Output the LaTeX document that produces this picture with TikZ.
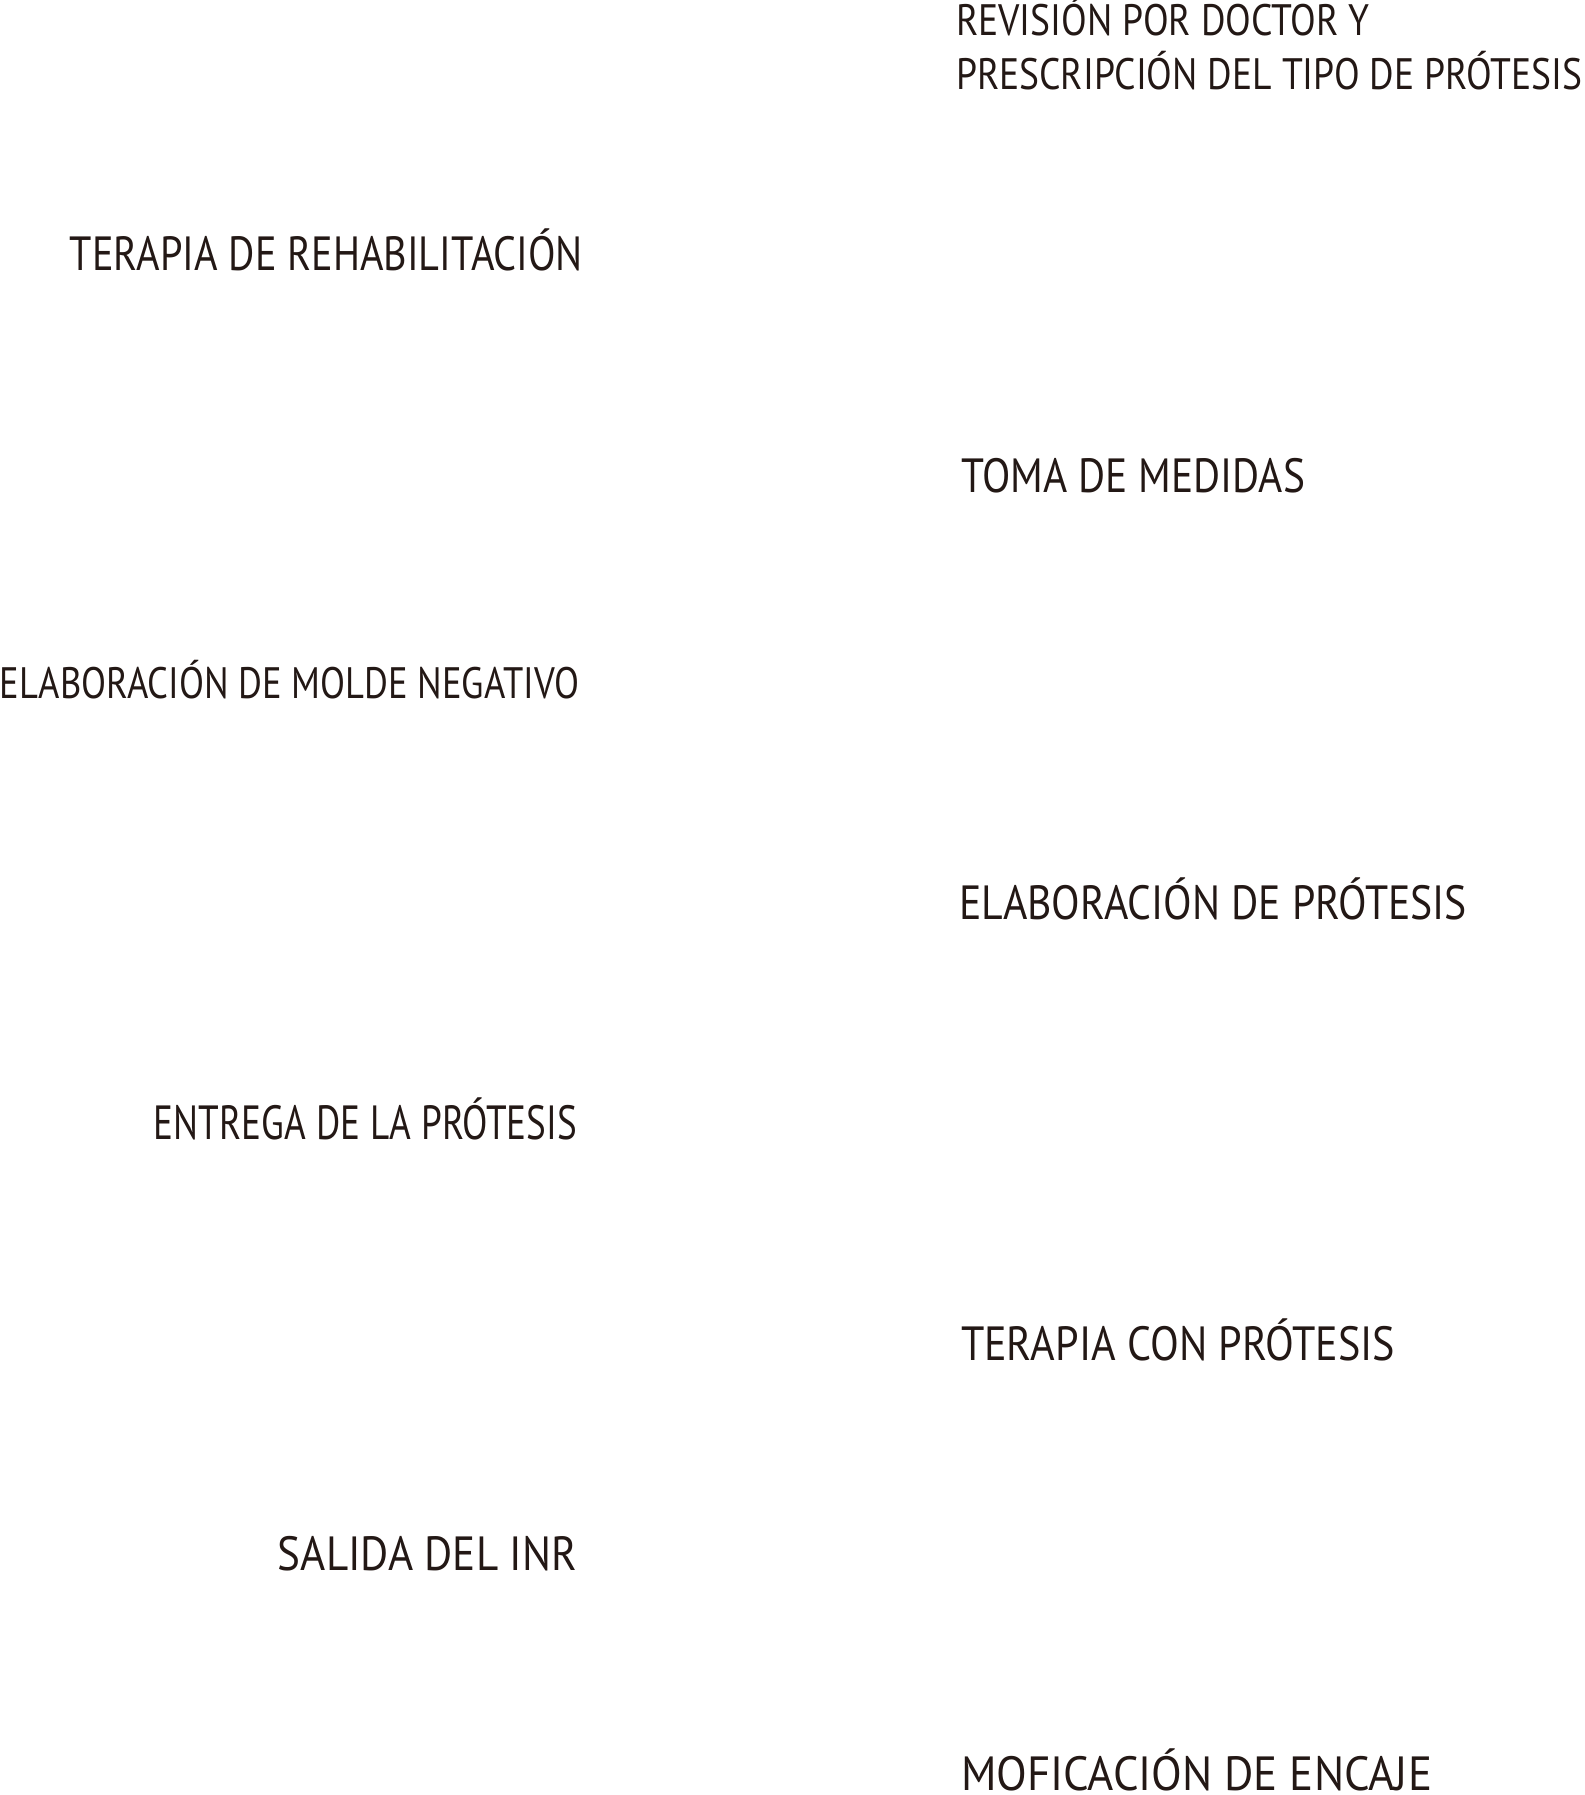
\documentclass[tikz,border=0pt]{standalone}
\usepackage{fontspec}
\usepackage{graphicx}
\setmainfont{PT Sans}
\definecolor{ink}{HTML}{231815}
\newcommand\fitto[2]{\resizebox{#1}{\height}{#2}}
\begin{document}
\begin{tikzpicture}[x=1pt,y=-1pt,
  lbl/.style={inner sep=0pt,outer sep=0pt,text=ink,font=\fontsize{48}{56}\selectfont},
  lblsm/.style={inner sep=0pt,outer sep=0pt,text=ink,font=\fontsize{44}{51.5}\selectfont}]
\useasboundingbox (0,0) rectangle (1584,1795);
\node[lblsm,anchor=base west] (revision) at (956,36) {\fitto{626pt}{\begin{tabular}[t]{@{}l@{}}REVISIÓN POR DOCTOR Y\\PRESCRIPCIÓN DEL TIPO DE PRÓTESIS\end{tabular}}};
\node[lbl,anchor=base east] (terapia) at (583,270) {\fitto{513pt}{TERAPIA DE REHABILITACIÓN}};
\node[lbl,anchor=base west] (toma) at (961,492) {\fitto{344pt}{TOMA DE MEDIDAS}};
\node[lblsm,anchor=base east] (molde) at (579,698) {\fitto{579pt}{ELABORACIÓN DE MOLDE NEGATIVO}};
\node[lbl,anchor=base west] (elab) at (959,919) {\fitto{508pt}{ELABORACIÓN DE PRÓTESIS}};
\node[lbl,anchor=base east] (entrega) at (577,1139) {\fitto{423pt}{ENTREGA DE LA PRÓTESIS}};
\node[lbl,anchor=base west] (tercon) at (961,1360) {\fitto{434pt}{TERAPIA CON PRÓTESIS}};
\node[lbl,anchor=base east] (salida) at (577,1570) {\fitto{299pt}{SALIDA DEL INR}};
\node[lbl,anchor=base west] (encaje) at (961,1790) {\fitto{471pt}{MOFICACIÓN DE ENCAJE}};
\end{tikzpicture}
\end{document}
